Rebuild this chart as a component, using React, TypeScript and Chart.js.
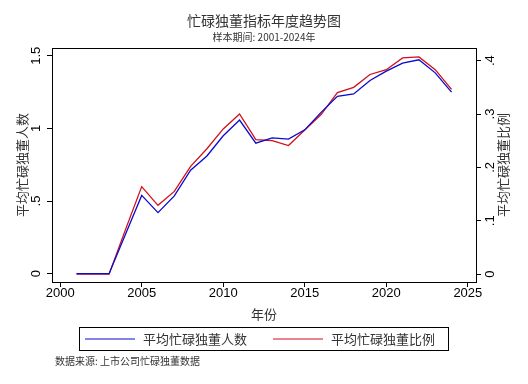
import React, { useEffect, useRef } from 'react';
import { Chart, registerables } from 'chart.js';

Chart.register(...registerables);

const years = [2001, 2002, 2003, 2004, 2005, 2006, 2007, 2008, 2009, 2010, 2011, 2012, 2013, 2014, 2015, 2016, 2017, 2018, 2019, 2020, 2021, 2022, 2023, 2024];
const avgCount = [0, 0, 0, 0.27, 0.539, 0.42, 0.535, 0.712, 0.81, 0.949, 1.057, 0.898, 0.935, 0.926, 0.99, 1.11, 1.221, 1.237, 1.329, 1.394, 1.449, 1.472, 1.382, 1.249];
const avgRatio = [0, 0, 0, 0.083, 0.164, 0.129, 0.155, 0.202, 0.235, 0.272, 0.3, 0.252, 0.25, 0.241, 0.27, 0.299, 0.34, 0.35, 0.374, 0.383, 0.405, 0.407, 0.383, 0.346];

const xTicks = [2000, 2005, 2010, 2015, 2020, 2025];
const leftTicks = [0, 0.5, 1, 1.5];
const leftTickLabels = ['0', '.5', '1', '1.5'];
const rightTicks = [0, 0.1, 0.2, 0.3, 0.4];
const rightTickLabels = ['0', '.1', '.2', '.3', '.4'];

const titleText = '忙碌独董指标年度趋势图';
const subtitleText = '样本期间: 2001-2024年';
const xTitle = '年份';
const leftTitle = '平均忙碌独董人数';
const rightTitle = '平均忙碌独董比例';
const seriesNames = ['平均忙碌独董人数', '平均忙碌独董比例'];
const noteText = '数据来源: 上市公司忙碌独董数据';

const BLUE = '#0a0acc';
const RED = '#d0101a';
const CJK = '"Noto Sans CJK SC", "Noto Sans", sans-serif';
const NUM = '"Liberation Sans", Arial, sans-serif';

const decorPlugin = {
  id: 'decor',
  afterDraw(chart: any) {
    const ctx = chart.ctx;
    const area = chart.chartArea;
    const W = chart.width;
    ctx.save();
    // top frame line
    ctx.strokeStyle = '#000';
    ctx.lineWidth = 1;
    ctx.beginPath();
    ctx.moveTo(Math.round(area.left) + 0.5, Math.round(area.top) + 0.5);
    ctx.lineTo(Math.round(area.right) + 0.5, Math.round(area.top) + 0.5);
    ctx.stroke();

    // titles
    ctx.fillStyle = '#333';
    ctx.textAlign = 'center';
    ctx.textBaseline = 'middle';
    ctx.font = `14px ${CJK}`;
    ctx.fillText(titleText, W / 2, 21);
    ctx.font = `10px ${CJK}`;
    ctx.fillText(subtitleText, W / 2, 37.5);

    const midY = (area.top + area.bottom) / 2;
    const yL = chart.scales.y;
    const yR = chart.scales.y1;

    // tick labels
    ctx.fillStyle = '#000';
    ctx.font = `13px ${NUM}`;
    leftTicks.forEach((v, i) => {
      const py = yL.getPixelForValue(v);
      ctx.save();
      ctx.translate(yL.right - 16, py);
      ctx.rotate(-Math.PI / 2);
      ctx.fillText(leftTickLabels[i], 0, 0);
      ctx.restore();
    });
    rightTicks.forEach((v, i) => {
      const py = yR.getPixelForValue(v);
      ctx.save();
      ctx.translate(yR.left + 14, py);
      ctx.rotate(-Math.PI / 2);
      ctx.fillText(rightTickLabels[i], 0, 0);
      ctx.restore();
    });

    // axis titles
    ctx.fillStyle = '#333';
    ctx.font = `13px ${CJK}`;
    ctx.save();
    ctx.translate(22, midY);
    ctx.rotate(-Math.PI / 2);
    ctx.fillText(leftTitle, 0, 0);
    ctx.restore();
    ctx.save();
    ctx.translate(yR.left + 27, midY);
    ctx.rotate(-Math.PI / 2);
    ctx.fillText(rightTitle, 0, 0);
    ctx.restore();

    // legend
    const lx = 79.5, ly = 327.5, lw = 369, lh = 23;
    ctx.strokeStyle = '#000';
    ctx.lineWidth = 1;
    ctx.strokeRect(lx, ly, lw, lh);
    const cy = ly + lh / 2;
    const items = [
      { color: BLUE, x: 85, text: seriesNames[0] },
      { color: RED, x: 273, text: seriesNames[1] },
    ];
    ctx.font = `13px ${CJK}`;
    ctx.textAlign = 'left';
    items.forEach((it) => {
      ctx.strokeStyle = it.color;
      ctx.lineWidth = 1.2;
      ctx.beginPath();
      ctx.moveTo(it.x, cy);
      ctx.lineTo(it.x + 50, cy);
      ctx.stroke();
      ctx.fillStyle = '#333';
      ctx.fillText(it.text, it.x + 58, cy);
    });

    // note
    ctx.font = `10px ${CJK}`;
    ctx.fillStyle = '#333';
    ctx.fillText(noteText, 55, 361);
    ctx.restore();
  },
};

export default function App() {
  const ref = useRef<HTMLCanvasElement | null>(null);
  useEffect(() => {
    if (!ref.current) return;
    const chart = new Chart(ref.current, {
      type: 'line',
      data: {
        datasets: [
          {
            label: seriesNames[0],
            data: years.map((y, i) => ({ x: y, y: avgCount[i] })),
            borderColor: BLUE,
            backgroundColor: BLUE,
            borderWidth: 1.3,
            pointRadius: 0,
            tension: 0,
            yAxisID: 'y',
          },
          {
            label: seriesNames[1],
            data: years.map((y, i) => ({ x: y, y: avgRatio[i] })),
            borderColor: RED,
            backgroundColor: RED,
            borderWidth: 1.3,
            pointRadius: 0,
            tension: 0,
            yAxisID: 'y1',
          },
        ],
      },
      options: {
        animation: false,
        responsive: false,
        maintainAspectRatio: false,
        layout: { padding: { top: 48, bottom: 62, left: 0, right: 0 } },
        plugins: {
          legend: { display: false },
          title: { display: false },
          tooltip: { enabled: false },
        },
        scales: {
          x: {
            type: 'linear',
            min: 1999.5,
            max: 2025.5,
            afterBuildTicks: (s: any) => {
              s.ticks = xTicks.map((v) => ({ value: v }));
            },
            afterFit: (s: any) => {
              s.height = 40;
            },
            ticks: {
              callback: (v: any) => String(v),
              color: '#000',
              font: { size: 13, family: NUM },
              padding: -1,
              maxRotation: 0,
              autoSkip: false,
            },
            grid: { drawOnChartArea: false, drawTicks: true, tickLength: 5, color: '#000' },
            border: { display: true, color: '#000' },
            title: {
              display: true,
              text: xTitle,
              color: '#333',
              font: { size: 13, family: CJK },
              padding: { top: -3, bottom: 0 },
            },
          },
          y: {
            position: 'left',
            min: -0.057,
            max: 1.553,
            afterBuildTicks: (s: any) => {
              s.ticks = leftTicks.map((v) => ({ value: v }));
            },
            afterFit: (s: any) => {
              s.width = 52;
            },
            ticks: { display: false },
            grid: { drawOnChartArea: false, drawTicks: true, tickLength: 5, color: '#000' },
            border: { display: true, color: '#000' },
          },
          y1: {
            position: 'right',
            min: -0.0146,
            max: 0.4236,
            afterBuildTicks: (s: any) => {
              s.ticks = rightTicks.map((v) => ({ value: v }));
            },
            afterFit: (s: any) => {
              s.width = 52;
            },
            ticks: { display: false },
            grid: { drawOnChartArea: false, drawTicks: true, tickLength: 5, color: '#000' },
            border: { display: true, color: '#000' },
          },
        },
      },
      plugins: [decorPlugin],
    } as any);
    return () => chart.destroy();
  }, []);

  return (
    <div style={{ position: 'absolute', left: 0, top: 0, width: 528, height: 384, background: '#fff' }}>
      <canvas ref={ref} width={528} height={384} style={{ width: 528, height: 384 }} />
    </div>
  );
}
